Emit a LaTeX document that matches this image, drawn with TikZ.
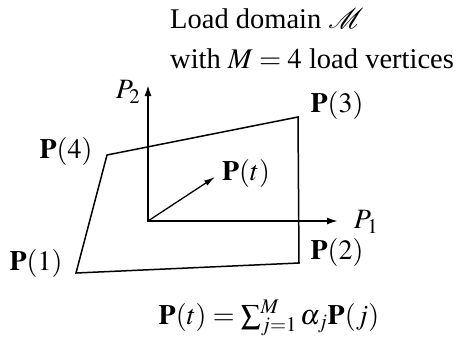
\documentclass[tikz,border=0pt]{standalone}
\usepackage{mathptmx}
\usepackage{fontspec}
\setmainfont{Liberation Serif}
\usetikzlibrary{arrows.meta}
\tikzset{
  domainline/.style={line width=1.5pt, line join=miter},
  axisline/.style={line width=1.8pt, {Latex[length=11pt,width=7pt]}-{Latex[length=11pt,width=7pt]}},
  vecline/.style={line width=1.3pt, -{Latex[length=11pt,width=6pt]}},
  lab/.style={font=\fontsize{28}{40}\selectfont, inner sep=0pt}
}
\begin{document}
\begin{tikzpicture}[x=1pt,y=-1pt]
  \useasboundingbox (0,0) rectangle (457,338);
  % load vertices and axes
  \coordinate (v1) at (76,273);
  \coordinate (v2) at (299,263);
  \coordinate (v3) at (298,117);
  \coordinate (v4) at (107,155);
  \coordinate (o)  at (148,221);
  \coordinate (p1) at (338,221);
  \coordinate (p2) at (148,85);
  \coordinate (pt) at (215,177);
  \draw[domainline] (v1) -- (v2) -- (v3) -- (v4) -- cycle;
  \draw[axisline] (p2) -- (o) -- (p1);
  \draw[vecline] (o) -- (pt);
  % labels
  \node[lab, font=\fontsize{28.5}{40}\selectfont, anchor=base west, align=left] (title) at (170,68)
    {Load domain $\mathcal{M}$\\with $M=4$ load vertices};
  \node[lab] (lp2) at (128,92) {$P_2$};
  \node[lab] (lp1) at (366,222) {$P_1$};
  \node[lab] (l3) at (337,105) {$\mathbf{P}(3)$};
  \node[lab] (l4) at (66,151) {$\mathbf{P}(4)$};
  \node[lab] (lt) at (246,173) {$\mathbf{P}(t)$};
  \node[lab] (l2) at (337,252) {$\mathbf{P}(2)$};
  \node[lab] (l1) at (36,263) {$\mathbf{P}(1)$};
  \node[lab] (sum) at (269,318) {$\mathbf{P}(t)=\sum_{j=1}^{M}\alpha_j\mathbf{P}(j)$};
\end{tikzpicture}
\end{document}
